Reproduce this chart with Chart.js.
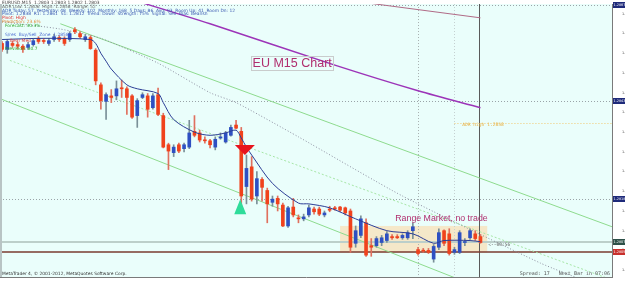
<!DOCTYPE html>
<html>
<head>
<meta charset="utf-8">
<script src="https://cdn.jsdelivr.net/npm/chart.js@4.4.0/dist/chart.umd.min.js"></script>
<style>
  html, body { margin: 0; padding: 0; background: #fff; }
  #box { width: 625px; height: 283px; }
</style>
</head>
<body>
<div id="box"><canvas id="euChart"></canvas></div>
<script>
// EURUSD M15, 93 bars (index 0 = 2 Nov 01:00)
const opens = [1.28575,1.28560,1.28575,1.28572,1.28568,1.28565,1.28572,1.28588,1.28582,1.28575,
  1.28585,1.28590,1.28588,1.28585,1.28610,1.28600,1.28585,1.28590,1.28558,1.28470,
  1.28428,1.28442,1.28442,1.28462,1.28460,1.28442,1.28392,1.28438,1.28442,1.28412,
  1.28445,1.28392,1.28318,1.28298,1.28318,1.28308,1.28312,1.28352,1.28348,1.28330,
  1.28328,1.28312,1.28335,1.28325,1.28342,1.28368,1.28352,1.28212,1.28262,1.28188,
  1.28230,1.28202,1.28172,1.28182,1.28165,1.28112,1.28160,1.28132,1.28130,1.28140,
  1.28155,1.28155,1.28140,1.28155,1.28158,1.28160,1.28158,1.28150,1.28068,1.28088,
  1.28120,1.28062,1.28062,1.28070,1.28075,1.28085,1.28085,1.28082,1.28082,1.28100,
  1.28052,1.28050,1.28050,1.28028,1.28058,1.28100,1.28092,1.28045,1.28045,1.28070,
  1.28082,1.28092,1.28085];
const highs = [1.28580,1.28585,1.28580,1.28578,1.28572,1.28578,1.28588,1.28592,1.28588,1.28588,
  1.28598,1.28595,1.28592,1.28605,1.28615,1.28605,1.28598,1.28595,1.28562,1.28475,
  1.28450,1.28458,1.28480,1.28482,1.28465,1.28445,1.28435,1.28450,1.28448,1.28448,
  1.28462,1.28398,1.28322,1.28318,1.28322,1.28322,1.28380,1.28392,1.28355,1.28338,
  1.28332,1.28338,1.28348,1.28352,1.28368,1.28380,1.28362,1.28292,1.28288,1.28250,
  1.28235,1.28208,1.28188,1.28188,1.28170,1.28162,1.28182,1.28140,1.28142,1.28165,
  1.28160,1.28160,1.28150,1.28162,1.28162,1.28162,1.28160,1.28155,1.28112,1.28138,
  1.28130,1.28080,1.28085,1.28088,1.28098,1.28090,1.28090,1.28092,1.28100,1.28120,
  1.28058,1.28055,1.28055,1.28065,1.28105,1.28102,1.28105,1.28058,1.28100,1.28080,
  1.28105,1.28100,1.28090];
const lows = [1.28555,1.28550,1.28565,1.28562,1.28552,1.28560,1.28568,1.28575,1.28575,1.28570,
  1.28580,1.28580,1.28570,1.28580,1.28600,1.28588,1.28580,1.28560,1.28470,1.28408,
  1.28382,1.28425,1.28432,1.28438,1.28395,1.28385,1.28362,1.28435,1.28388,1.28408,
  1.28392,1.28310,1.28255,1.28288,1.28298,1.28300,1.28308,1.28338,1.28325,1.28322,
  1.28310,1.28305,1.28332,1.28322,1.28340,1.28358,1.28162,1.28168,1.28175,1.28168,
  1.28175,1.28120,1.28162,1.28150,1.28110,1.28108,1.28135,1.28120,1.28125,1.28135,
  1.28142,1.28138,1.28135,1.28148,1.28152,1.28148,1.28140,1.28045,1.28058,1.28082,
  1.28035,1.28035,1.28058,1.28062,1.28070,1.28078,1.28080,1.28078,1.28078,1.28080,
  1.28038,1.28045,1.28042,1.28020,1.28052,1.28062,1.28038,1.28040,1.28042,1.28062,
  1.28078,1.28075,1.28068];
const closes = [1.28560,1.28580,1.28570,1.28568,1.28560,1.28572,1.28582,1.28580,1.28580,1.28582,
  1.28592,1.28585,1.28575,1.28600,1.28605,1.28592,1.28592,1.28562,1.28480,1.28430,
  1.28445,1.28438,1.28460,1.28460,1.28438,1.28388,1.28430,1.28445,1.28408,1.28442,
  1.28395,1.28312,1.28302,1.28312,1.28302,1.28318,1.28348,1.28342,1.28330,1.28328,
  1.28318,1.28332,1.28338,1.28348,1.28362,1.28360,1.28188,1.28258,1.28180,1.28232,
  1.28210,1.28168,1.28180,1.28168,1.28112,1.28158,1.28140,1.28130,1.28135,1.28158,
  1.28148,1.28142,1.28145,1.28152,1.28155,1.28152,1.28145,1.28058,1.28100,1.28130,
  1.28038,1.28058,1.28080,1.28082,1.28092,1.28082,1.28082,1.28088,1.28095,1.28110,
  1.28042,1.28048,1.28045,1.28060,1.28095,1.28068,1.28042,1.28052,1.28095,1.28072,
  1.28100,1.28080,1.28070];

const xTickBars = [0,4,8,12,16,20,24,28,32,36,40,44,48,52,56,60,64,68,72,76,80,84,88,92];
const xTickLabels = ['2 Nov 2012','2 Nov 02:00','2 Nov 03:00','2 Nov 04:00','2 Nov 05:00','2 Nov 06:00',
  '2 Nov 07:00','2 Nov 08:00','2 Nov 09:00','2 Nov 10:00','2 Nov 11:00','2 Nov 12:00','2 Nov 13:00',
  '2 Nov 14:00','2 Nov 15:00','2 Nov 16:00','2 Nov 17:00','2 Nov 18:00','2 Nov 19:00','2 Nov 20:00',
  '4 Nov 22:00','4 Nov 23:00','5 Nov 00:00','5 Nov 01:15'];
const yTickValues = [1.2800,1.2805,1.2810,1.2815,1.2820,1.2825,1.2830,1.2835,1.2840,1.2845,1.2850,1.2855,1.2860,1.2865];

// indicator lines as [bar, price]
const maFast = [[0,1.28585],[8,1.28588],[17,1.28585],[18,1.28575],[19,1.28550],[20,1.28530],[21,1.28510],
  [24,1.28470],[26,1.28460],[30,1.28448],[31,1.28425],[33,1.28382],[37,1.28350],[40,1.28342],[43,1.28348],
  [45,1.28355],[46,1.28335],[47,1.28312],[48,1.28292],[52,1.28220],[57,1.28170],[59,1.28168],[63,1.28158],
  [68,1.28130],[74,1.28100],[79,1.28092],[83,1.28068],[85,1.28075],[90,1.28075],[92,1.28072]];
const maSlow = [[24,1.28690],[40,1.28625],[64,1.28520],[80,1.28455],[92,1.28412]];
const maTop = [[69,1.28680],[92,1.28640]];
const grayTrend = [[0,1.28630],[11,1.28612],[19,1.28588],[30,1.28525],[40,1.28450],[45,1.28425],
  [57,1.28338],[77,1.28188],[103.5,1.28018],[113,1.27968]];
const greenUpper = [[11.2,1.28625],[117.3,1.28110]];
const greenLower = [[-0.4,1.28435],[92,1.27955]];
const greenMid = [[1.5,1.28532],[116.3,1.27980]];

const hLevels = [1.28672, 1.28428, 1.28180];   // dotted
const bidLevel = 1.28072;
const lowLevel = 1.28045;
const adrHigh = { fromBar: 87, price: 1.28372 };
const vDotted = [80, 87];
const vSolid = 92;
const rangeBox = { fromBar: 65, toBar: 93.3, top: 1.28112, bottom: 1.28045 };
const sellSignal = { bar: 46.7, price: 1.28292 };
const buySignal = { bar: 45.8, price: 1.28180 };
const notes = [
  { text: 'EU M15 Chart', bar: 55.8, price: 1.28525, size: 12.5, box: true },
  { text: 'Range Market, no trade', bar: 84.5, price: 1.28130, size: 8.8, box: false }
];

const xy = pts => pts.map(p => ({ x: p[0], y: p[1] }));
const bull = opens.map((o, i) => closes[i] >= o);
const RED = '#f0421c', BLUE = '#2e50c2';

const infoLines = [
  ['EURUSD,M15  1.2803 1.2803 1.2802 1.2803', '#444', 3, 2],
  ['ADR Low: 1.2806  High: 1.2858  Range: 52', '#666', 7, 2],
  ['ADR Today: 57  Yesterday: 48  Weekly: 102  Monthly: 168  5 Days: 86  Avg: 93  Room Up: 41  Room Dn: 12', '#3a58b0', 11, 2],
  ['Pivot: 1.2838  R1: 1.2861  S1: 1.2812  Trend: Down  Strength: 75%  Signal: Sell  Bias: Bearish', '#3a58b0', 14, 2],
  ['Pivot: High', '#e03030', 18, 2],
  ['Prediction: 23.6%', '#e08a3a', 22, 2],
  ['Forecast: 30.3%', '#2eaa2e', 26, 5],
  ['S/res  Buy/Sell  Zone  1.2858', '#4a6ad0', 35, 5],
  ['Bear Med', '#e03a3a', 41, 10],
  ['Prevision: 30.7', '#2eaa2e', 49, 5]
];

const overlay = {
  id: 'overlay',
  beforeDraw(chart) {
    const { ctx, chartArea: a } = chart;
    ctx.save();
    ctx.fillStyle = '#eafefb';
    ctx.fillRect(a.left, a.top, a.right - a.left, a.bottom - a.top);
    ctx.restore();
  },
  beforeDatasetsDraw(chart) {
    const { ctx, chartArea: a, scales: { x, y } } = chart;
    ctx.save();
    ctx.beginPath();
    ctx.rect(a.left, a.top, a.right - a.left, a.bottom - a.top);
    ctx.clip();

    // range rectangle
    const rx1 = x.getPixelForValue(rangeBox.fromBar), rx2 = x.getPixelForValue(rangeBox.toBar);
    const ry1 = y.getPixelForValue(rangeBox.top), ry2 = y.getPixelForValue(rangeBox.bottom);
    ctx.fillStyle = 'rgba(253,214,160,0.55)';
    ctx.fillRect(rx1, ry1, rx2 - rx1, ry2 - ry1);

    // vertical lines
    ctx.lineWidth = 1;
    vDotted.forEach((b, k) => {
      const px = Math.round(x.getPixelForValue(b)) + 0.5;
      ctx.strokeStyle = k === 0 ? '#a8b0b0' : '#c4d0d0';
      ctx.setLineDash([1, 2]);
      ctx.beginPath(); ctx.moveTo(px, a.top); ctx.lineTo(px, a.bottom); ctx.stroke();
    });
    ctx.setLineDash([]);
    const sx = Math.round(x.getPixelForValue(vSolid)) - 0.5;
    ctx.strokeStyle = '#5a5a5a';
    ctx.beginPath(); ctx.moveTo(sx, a.top); ctx.lineTo(sx, a.bottom); ctx.stroke();

    // horizontal levels
    ctx.strokeStyle = '#9aa4a8';
    ctx.setLineDash([1, 2]);
    hLevels.forEach(v => {
      const py = Math.round(y.getPixelForValue(v)) + 0.5;
      ctx.beginPath(); ctx.moveTo(a.left, py); ctx.lineTo(a.right, py); ctx.stroke();
    });
    ctx.strokeStyle = '#f0c870';
    const ay = Math.round(y.getPixelForValue(adrHigh.price)) + 0.5;
    ctx.beginPath(); ctx.moveTo(x.getPixelForValue(adrHigh.fromBar), ay); ctx.lineTo(a.right, ay); ctx.stroke();
    ctx.setLineDash([]);

    ctx.strokeStyle = '#bccfca';
    ctx.lineWidth = 2;
    const by = Math.round(y.getPixelForValue(bidLevel));
    ctx.beginPath(); ctx.moveTo(a.left, by); ctx.lineTo(a.right, by); ctx.stroke();
    ctx.strokeStyle = '#7a3b30';
    ctx.lineWidth = 1.5;
    const ly = Math.round(y.getPixelForValue(lowLevel));
    ctx.beginPath(); ctx.moveTo(a.left, ly); ctx.lineTo(a.right, ly); ctx.stroke();
    ctx.restore();
  },
  afterDatasetsDraw(chart) {
    const { ctx, chartArea: a, scales: { x, y } } = chart;
    ctx.save();

    // signal arrows
    let px = x.getPixelForValue(sellSignal.bar), py = y.getPixelForValue(sellSignal.price);
    ctx.fillStyle = '#e8141e';
    ctx.beginPath(); ctx.moveTo(px - 10, py - 10); ctx.lineTo(px + 10, py - 10); ctx.lineTo(px, py); ctx.closePath(); ctx.fill();
    px = x.getPixelForValue(buySignal.bar); py = y.getPixelForValue(buySignal.price);
    ctx.fillStyle = '#2fdc9a';
    ctx.beginPath(); ctx.moveTo(px, py); ctx.lineTo(px + 6, py + 15); ctx.lineTo(px - 6, py + 15); ctx.closePath(); ctx.fill();

    // text notes
    ctx.textBaseline = 'middle';
    notes.forEach(n => {
      const nx = x.getPixelForValue(n.bar), ny = y.getPixelForValue(n.price);
      ctx.font = n.size + 'px "Liberation Sans", Arial, sans-serif';
      ctx.textAlign = 'center';
      const w = ctx.measureText(n.text).width;
      if (n.box) {
        ctx.strokeStyle = '#c9cccc';
        ctx.lineWidth = 1;
        ctx.strokeRect(Math.round(nx - w / 2) - 1.5, Math.round(ny - 7) + 0.5, Math.round(w) + 3, 14);
      }
      ctx.fillStyle = '#b02e6e';
      ctx.fillText(n.text, nx, ny);
    });

    // small texts
    ctx.textAlign = 'left';
    ctx.font = '4.6px "DejaVu Sans Mono", monospace';
    ctx.fillStyle = '#6a6a6a';
    ctx.fillText('<--00:56', x.getPixelForValue(93.5), y.getPixelForValue(1.28065));
    ctx.fillStyle = '#e8b040';
    ctx.fillText('ADR high 1.2858', x.getPixelForValue(88.5), y.getPixelForValue(adrHigh.price) + 1);

    ctx.font = '4.4px "DejaVu Sans", sans-serif';
    infoLines.forEach(l => { ctx.fillStyle = l[1]; ctx.fillText(l[0], l[3], l[2]); });
    ctx.fillStyle = '#333';
    ctx.fillText('MetaTrader 4, \u00a9 2001-2012, MetaQuotes Software Corp.', 2, 274);
    ctx.font = '5px "DejaVu Sans Mono", monospace';
    ctx.fillStyle = '#555';
    ctx.textAlign = 'right';
    ctx.fillText('Spread: 17   Next Bar in 07:06', a.right - 2, 274);

    // left frame
    ctx.strokeStyle = '#b8c4c4';
    ctx.lineWidth = 2;
    ctx.beginPath(); ctx.moveTo(a.left + 1, a.top); ctx.lineTo(a.left + 1, a.bottom); ctx.stroke();

    // price markers on the right axis
    const marks = [[hLevels[0], '#1e2a7a'], [hLevels[1], '#1e2a7a'], [hLevels[2], '#1e2a7a'],
      [bidLevel, '#2d5048'], [lowLevel, '#c8302c']];
    ctx.font = '3.4px "DejaVu Sans", sans-serif';
    ctx.textAlign = 'left';
    marks.forEach(m => {
      const my = Math.round(y.getPixelForValue(m[0]));
      ctx.fillStyle = m[1];
      ctx.fillRect(a.right + 1, my - 3, 13, 6);
      ctx.fillStyle = '#fff';
      ctx.fillText(m[0].toFixed(4), a.right + 1.5, my);
    });
    ctx.restore();
  }
};

const lineSet = (pts, color, width, dash, order, tension) => ({
  type: 'line', data: xy(pts), borderColor: color, borderWidth: width, borderDash: dash || [],
  pointRadius: 0, fill: false, order: order, tension: tension || 0
});

new Chart(document.getElementById('euChart'), {
  type: 'bar',
  data: {
    datasets: [
      lineSet(maFast, '#2c3e96', 1, null, 0, 0.3),
      lineSet(maSlow, '#9c34b8', 1.5, null, 1, 0.3),
      lineSet(maTop, '#b06a86', 1, null, 1),
      {
        label: 'body', grouped: false, order: 2, barThickness: 3, minBarLength: 1,
        data: opens.map((o, i) => ({ x: i, y: [o, closes[i]] })),
        backgroundColor: bull.map(b => b ? BLUE : RED)
      },
      {
        label: 'wick', grouped: false, order: 3, barThickness: 1,
        data: lows.map((l, i) => ({ x: i, y: [l, highs[i]] })),
        backgroundColor: bull.map(b => b ? '#7a9098' : '#e0705e')
      },
      lineSet(grayTrend, '#8c8ea0', 1, [1, 2], 4, 0.2),
      lineSet(greenUpper, '#8edb8e', 1, null, 5),
      lineSet(greenLower, '#8edb8e', 1, null, 5),
      lineSet(greenMid, '#a6e6a6', 1, [2, 2], 5)
    ]
  },
  options: {
    responsive: true,
    maintainAspectRatio: false,
    devicePixelRatio: 1,
    animation: false,
    layout: { padding: 0 },
    plugins: { legend: { display: false }, tooltip: { enabled: false } },
    scales: {
      x: {
        type: 'linear', min: -0.4, max: 117.3, offset: false,
        grid: { display: false },
        border: { display: true, color: '#7a7a7a' },
        afterBuildTicks: s => { s.ticks = xTickBars.map(v => ({ value: v })); },
        afterFit: s => { s.height = 6; },
        ticks: {
          autoSkip: false, maxRotation: 0, align: 'start', padding: 1,
          font: { size: 4.4, family: 'DejaVu Sans' }, color: '#333',
          callback: v => xTickLabels[xTickBars.indexOf(v)]
        }
      },
      y: {
        position: 'right', min: 1.279825, max: 1.28675,
        grid: { display: false },
        border: { display: true, color: '#7a7a7a' },
        afterBuildTicks: s => { s.ticks = yTickValues.map(v => ({ value: v })); },
        afterFit: s => { s.width = 13; },
        ticks: {
          padding: 2, font: { size: 3.4, family: 'DejaVu Sans' }, color: '#444',
          callback: v => v.toFixed(4)
        }
      }
    }
  },
  plugins: [overlay]
});
</script>
</body>
</html>
